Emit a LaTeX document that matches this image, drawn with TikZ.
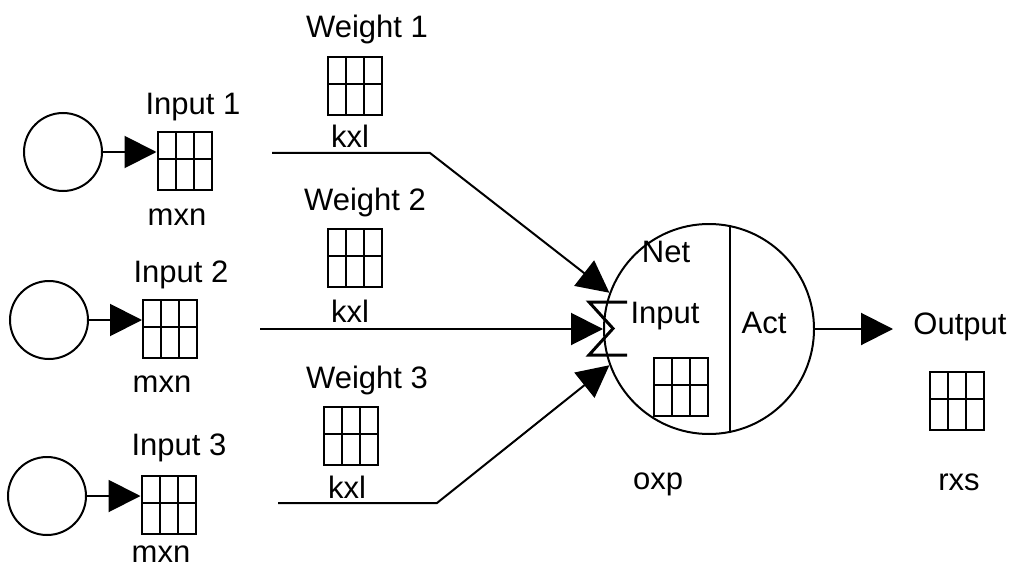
\documentclass[tikz,border=0pt]{standalone}
\usepackage{fontspec}
\setmainfont{Liberation Sans}
\usetikzlibrary{arrows.meta,calc}

\begin{document}
\begin{tikzpicture}[x=1pt,y=-1pt,
  line width=2pt,
  lbl/.style={anchor=base, inner sep=0pt, font=\fontsize{31}{37}\selectfont},
  src/.style={draw, circle, minimum size=78pt, inner sep=0pt},
  matbox/.style={draw, rectangle, minimum width=54pt, minimum height=58pt, inner sep=0pt,
    path picture={
      \draw[line width=2pt] let \p1=(path picture bounding box.south west),
                \p2=(path picture bounding box.north east) in
        ({\x1+(\x2-\x1)/3},\y1) -- ({\x1+(\x2-\x1)/3},\y2)
        ({\x1+2*(\x2-\x1)/3},\y1) -- ({\x1+2*(\x2-\x1)/3},\y2)
        (\x1,{\y2+0.47*(\y1-\y2)}) -- (\x2,{\y2+0.47*(\y1-\y2)});
    }},
  arr/.style={-{Triangle[length=32pt,width=32pt]}}]

\useasboundingbox (0,0) rectangle (1016,572);

% input sources and their matrices
\node[src] (c1) at (63,152) {};
\node[src] (c2) at (49,320) {};
\node[src] (c3) at (47,496) {};

\node[matbox] (m1) at (184.5,161) {};
\node[matbox] (m2) at (170,329) {};
\node[matbox] (m3) at (168.5,504.5) {};

\node[lbl] (in1) at (193,115) {Input 1};
\node[lbl] (in2) at (181,282) {Input 2};
\node[lbl] (in3) at (179,455) {Input 3};
\node[lbl] (d1) at (177,225) {mxn};
\node[lbl] (d2) at (162,392) {mxn};
\node[lbl] (d3) at (161,562) {mxn};

\draw[arr] (c1.east) -- (c1.east -| m1.west);
\draw[arr] (c2.east) -- (c2.east -| m2.west);
\draw[arr] (c3.east) -- (c3.east -| m3.west);

% weights
\node[lbl] (wt1) at (367,38) {Weight 1};
\node[lbl] (wt2) at (365,210) {Weight 2};
\node[lbl] (wt3) at (367,388) {Weight 3};
\node[matbox] (w1) at (354.5,86) {};
\node[matbox] (w2) at (354.5,258) {};
\node[matbox] (w3) at (351,436) {};
\node[lbl] (k1) at (350,148) {kxl};
\node[lbl] (k2) at (350,322) {kxl};
\node[lbl] (k3) at (347,498) {kxl};

% neuron
\node[draw, circle, minimum size=210pt, inner sep=0pt] (neuron) at (709,329) {};
\draw ($(neuron.center)+(21,-103)$) -- ($(neuron.center)+(21,103)$);
\node[lbl] (net) at (666,262) {Net};
\node[lbl] (netin) at (665,323) {Input};
\node[lbl] (act) at (764,333) {Act};
\node[matbox] (nm) at (681,387) {};
\node[lbl] (oxp) at (658,489) {oxp};

% summation sign
\draw[line width=3pt] (627,302) -- (589,302) -- (613,328.5) -- (589,355) -- (627,355);

% weighted connections
\coordinate (s1) at (272,153);
\coordinate (b1) at (430,153);
\coordinate (s2) at (260,329);
\coordinate (s3) at (278,503);
\coordinate (b3) at (437,503);
\draw[arr] (s1) -- (b1) -- (neuron.160);
\draw[arr] (s2) -- (neuron.west);
\draw[arr] (s3) -- (b3) -- (neuron.200);

% output
\coordinate (otip) at (893,329);
\draw[arr] (neuron.east) -- (otip);
\node[lbl] (out) at (960,334) {Output};
\node[matbox] (om) at (956.5,401) {};
\node[lbl] (rxs) at (959,490) {rxs};

\end{tikzpicture}
\end{document}
